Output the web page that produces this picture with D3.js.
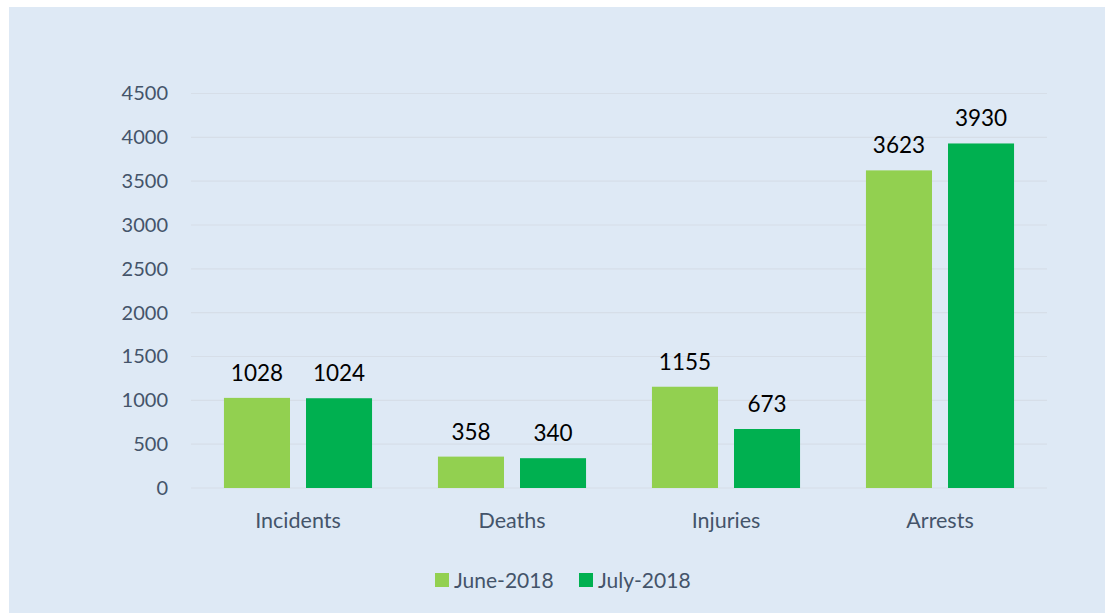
<!DOCTYPE html>
<html>
<head>
<meta charset="utf-8">
<script src="https://cdn.jsdelivr.net/npm/d3@7"></script>
<style>
  html, body { margin: 0; padding: 0; background: #fff; }
  #chart { width: 1105px; height: 613px; }
  text { font-family: Lato, "Open Sans", sans-serif; }
</style>
</head>
<body>
<div id="chart"></div>
<script>
// Chart data
const categories = ["Incidents", "Deaths", "Injuries", "Arrests"];
const seriesNames = ["June-2018", "July-2018"];
const june2018 = [1028, 358, 1155, 3623];
const july2018 = [1024, 340, 673, 3930];
const yTicks = [0, 500, 1000, 1500, 2000, 2500, 3000, 3500, 4000, 4500];

const colors = { "June-2018": "#92d050", "July-2018": "#00b050" };

const W = 1105, H = 613;
const svg = d3.select("#chart").append("svg")
  .attr("width", W).attr("height", H);

// Chart area background
svg.append("rect")
  .attr("x", 9).attr("y", 7)
  .attr("width", W - 9).attr("height", H - 7)
  .attr("fill", "#dee9f5");

const plot = { left: 191, right: 1047, top: 93.5, bottom: 488 };

const x = d3.scaleBand()
  .domain(categories)
  .range([plot.left, plot.right])
  .paddingInner(0.308)
  .paddingOuter(0.154);

const xSub = d3.scaleBand()
  .domain(seriesNames)
  .range([0, x.bandwidth()])
  .paddingInner(0.195);

const y = d3.scaleLinear()
  .domain([0, 4500])
  .range([plot.bottom, plot.top]);

// Gridlines
svg.append("g")
  .selectAll("line")
  .data(yTicks)
  .join("line")
  .attr("x1", plot.left).attr("x2", plot.right)
  .attr("y1", d => y(d)).attr("y2", d => y(d))
  .attr("stroke", "#d6dee8")
  .attr("stroke-width", 1.2);

// Y axis
const yAxis = svg.append("g")
  .attr("transform", `translate(${plot.left},0)`)
  .call(d3.axisLeft(y).tickValues(yTicks).tickFormat(d3.format("d")).tickSize(0).tickPadding(23));
yAxis.select(".domain").remove();
yAxis.selectAll("text")
  .style("font-size", "20px")
  .attr("fill", "#44546a");

// X axis labels
const xAxis = svg.append("g")
  .attr("transform", `translate(0,${plot.bottom})`)
  .call(d3.axisBottom(x).tickSize(0).tickPadding(25));
xAxis.select(".domain").remove();
xAxis.selectAll("text")
  .style("font-size", "21.5px")
  .attr("fill", "#44546a");

// Bars
const rows = categories.map((c, i) => ({
  category: c,
  values: [
    { series: "June-2018", value: june2018[i] },
    { series: "July-2018", value: july2018[i] }
  ]
}));

const groups = svg.append("g")
  .selectAll("g")
  .data(rows)
  .join("g")
  .attr("transform", d => `translate(${x(d.category)},0)`);

groups.selectAll("rect")
  .data(d => d.values)
  .join("rect")
  .attr("x", d => xSub(d.series))
  .attr("y", d => y(d.value))
  .attr("width", xSub.bandwidth())
  .attr("height", d => y(0) - y(d.value))
  .attr("fill", d => colors[d.series]);

// Value labels
groups.selectAll("text.val")
  .data(d => d.values)
  .join("text")
  .attr("class", "val")
  .attr("x", d => xSub(d.series) + xSub.bandwidth() / 2)
  .attr("y", d => y(d.value) - 17)
  .attr("text-anchor", "middle")
  .style("font-size", "22.5px")
  .attr("fill", "#000")
  .text(d => d.value);

// Legend
const legend = svg.append("g").attr("transform", "translate(435,573)");
const legendX = [0, 144];
seriesNames.forEach((s, i) => {
  const g = legend.append("g").attr("transform", `translate(${legendX[i]},0)`);
  g.append("rect").attr("width", 14).attr("height", 14).attr("fill", colors[s]);
  g.append("text")
    .attr("x", 19).attr("y", 14.5)
    .style("font-size", "21px")
    .attr("fill", "#44546a")
    .text(s);
});
</script>
</body>
</html>
